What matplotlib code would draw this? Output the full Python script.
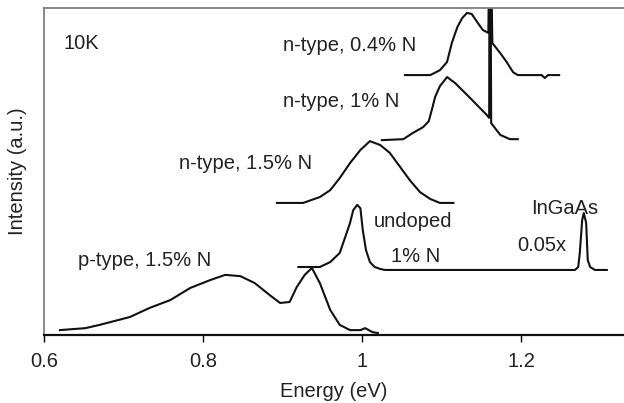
import numpy as np
import matplotlib.pyplot as plt

plt.rcParams['font.family'] = ['Liberation Sans', 'DejaVu Sans']

# p-type, 1.5% N
p15_e = [0.620, 0.652, 0.670, 0.708, 0.733, 0.759, 0.784, 0.809, 0.828, 0.847, 0.865,
         0.884, 0.897, 0.909, 0.918, 0.928, 0.937, 0.947, 0.960, 0.972, 0.985, 0.998,
         1.004, 1.013, 1.020]
p15_i = [0.015, 0.021, 0.031, 0.055, 0.083, 0.107, 0.144, 0.168, 0.184, 0.180, 0.159,
         0.122, 0.098, 0.101, 0.147, 0.184, 0.205, 0.159, 0.077, 0.031, 0.015, 0.015,
         0.021, 0.009, 0.006]

# undoped, 1% N (with InGaAs reference at 0.05x)
und_e = [0.920, 0.947, 0.960, 0.972, 0.979, 0.985, 0.989, 0.994, 0.998, 1.001, 1.005,
         1.010, 1.016, 1.023, 1.029, 1.268, 1.272, 1.274, 1.277, 1.279, 1.282, 1.284,
         1.287, 1.293, 1.308]
und_i = [0.208, 0.208, 0.223, 0.251, 0.300, 0.343, 0.382, 0.398, 0.388, 0.321, 0.260,
         0.223, 0.208, 0.202, 0.199, 0.199, 0.208, 0.251, 0.352, 0.373, 0.343, 0.229,
         0.208, 0.199, 0.199]

# n-type, 1.5% N
n15_e = [0.893, 0.926, 0.947, 0.960, 0.972, 0.985, 0.998, 1.010, 1.023, 1.035, 1.048,
         1.060, 1.073, 1.086, 1.098, 1.115]
n15_i = [0.404, 0.404, 0.422, 0.443, 0.480, 0.526, 0.566, 0.593, 0.581, 0.557, 0.514,
         0.474, 0.437, 0.416, 0.404, 0.404]

# n-type, 1% N (narrow line near 1.161 eV runs off the top)
n10_e = [1.025, 1.052, 1.064, 1.077, 1.084, 1.088, 1.092, 1.098, 1.107, 1.117, 1.136,
         1.157, 1.1600, 1.1605, 1.1615, 1.1625, 1.174, 1.186, 1.196]
n10_i = [0.596, 0.599, 0.618, 0.636, 0.654, 0.690, 0.728, 0.761, 0.789, 0.771, 0.725,
         0.673, 0.664, 1.300, 1.300, 0.648, 0.612, 0.599, 0.599]

# n-type, 0.4% N
n04_e = [1.054, 1.086, 1.098, 1.107, 1.113, 1.120, 1.126, 1.132, 1.138, 1.145, 1.152,
         1.159, 1.1605, 1.1615, 1.164, 1.174, 1.182, 1.190, 1.196, 1.226, 1.230, 1.234,
         1.248]
n04_i = [0.795, 0.795, 0.810, 0.835, 0.893, 0.942, 0.969, 0.985, 0.982, 0.957, 0.933,
         0.924, 1.300, 1.300, 0.893, 0.862, 0.835, 0.804, 0.795, 0.795, 0.786, 0.795,
         0.795]

labels = ['10K', 'n-type, 0.4% N', 'n-type, 1% N', 'n-type, 1.5% N', 'p-type, 1.5% N',
          'undoped', '1% N', '0.05x', 'InGaAs']
label_e = [0.647, 0.985, 0.974, 0.853, 0.726, 1.064, 1.068, 1.226, 1.255]
label_i = [0.893, 0.887, 0.713, 0.526, 0.229, 0.346, 0.239, 0.275, 0.388]

fig = plt.figure(figsize=(6.24, 4.03), dpi=100)
ax = fig.add_axes([0.0705, 0.1687, 0.9295, 0.8113])

lc = '#111111'
for e, i in [(p15_e, p15_i), (und_e, und_i), (n15_e, n15_i), (n10_e, n10_i), (n04_e, n04_i)]:
    ax.plot(e, i, color=lc, lw=1.5)

for t, x, y in zip(labels, label_e, label_i):
    ax.text(x, y, t, ha='center', va='center', fontsize=14.5, color='#222222')

ax.set_xlim(0.6, 1.3296)
ax.set_ylim(0, 1)
ax.set_xticks([0.6, 0.8, 1.0, 1.2])
ax.set_xticklabels(['0.6', '0.8', '1', '1.2'])
ax.set_yticks([])
ax.tick_params(axis='x', direction='out', length=5, width=1, pad=7, labelsize=14.5,
               labelcolor='#222222')
ax.set_xlabel('Energy (eV)', fontsize=14.5, labelpad=8, color='#222222')
ax.set_ylabel('Intensity (a.u.)', fontsize=14.5, labelpad=12, color='#222222')

ax.spines['right'].set_visible(False)
ax.spines['left'].set_color('#808080')
ax.spines['left'].set_linewidth(1.3)
ax.spines['top'].set_color('#808080')
ax.spines['top'].set_linewidth(1.3)
ax.spines['bottom'].set_color('#111111')
ax.spines['bottom'].set_linewidth(1.6)

fig.savefig('out.png', dpi=100)
